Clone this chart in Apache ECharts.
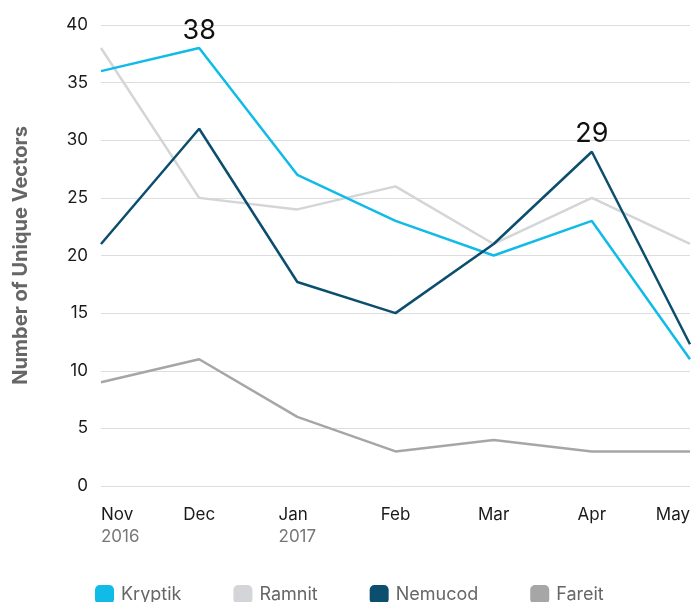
<!DOCTYPE html>
<html>
<head>
<meta charset="utf-8">
<style>
  html, body { margin: 0; padding: 0; background: #fff; }
  #chart { width: 693px; height: 602px; }
</style>
<script src="https://cdn.jsdelivr.net/npm/echarts@6/dist/echarts.min.js"></script>
</head>
<body>
<div id="chart"></div>
<script>
var months = ["Nov", "Dec", "Jan", "Feb", "Mar", "Apr", "May"];
var years = ["2016", "", "2017", "", "", "", ""];
var kryptik = [36, 38, 27, 23, 20, 23, 11];
var ramnit = [38, 25, 24, 26, 21, 25, 21];
var nemucod = [21, 31, 17.7, 15, 21, 29, 12.3];
var fareit = [9, 11, 6, 3, 4, 3, 3];
var yTicks = [0, 5, 10, 15, 20, 25, 30, 35, 40];

(function lineChart() {
  var chart = echarts.init(document.getElementById("chart"));
  var font = "Inter, 'Noto Sans', sans-serif";

  // only one point per series carries a value label
  function peakLabel(values, idx) {
    return values.map(function (v, i) {
      if (i !== idx) return v;
      return {
        value: v,
        label: { show: true, position: "top", distance: 4, fontSize: 27, color: "#111", fontFamily: font }
      };
    });
  }

  function line(name, color, data) {
    return {
      name: name,
      type: "line",
      data: data,
      symbol: "circle",
      symbolSize: 0.01,
      showSymbol: true,
      lineStyle: { width: 2.5, color: color },
      itemStyle: { color: color },
      emphasis: { disabled: true },
      z: 3
    };
  }

  chart.setOption({
    animation: false,
    textStyle: { fontFamily: font },
    grid: { left: 101, right: 0, top: 25, bottom: 116 },
    legend: {
      left: 90,
      top: 580,
      itemWidth: 19,
      itemHeight: 19,
      itemGap: 52,
      icon: "roundRect",
      textStyle: { fontSize: 18, color: "#666", padding: [0, 0, 0, 2] },
      data: ["Kryptik", "Ramnit", "Nemucod", "Fareit"]
    },
    xAxis: {
      type: "category",
      boundaryGap: false,
      data: months,
      axisLine: { show: false },
      axisTick: { show: false },
      axisLabel: {
        margin: 18,
        alignMinLabel: "left",
        alignMaxLabel: "right",
        formatter: function (value, i) {
          return "{m|" + value + "}" + (years[i] ? "\n{y|" + years[i] + "}" : "");
        },
        rich: {
          m: { fontSize: 17, color: "#1a1a1a", lineHeight: 22, fontFamily: font, align: "left" },
          y: { fontSize: 17, color: "#777", lineHeight: 22, fontFamily: font, align: "left" }
        }
      }
    },
    yAxis: {
      type: "value",
      min: 0,
      max: 40,
      interval: 5,
      name: "Number of Unique Vectors",
      nameLocation: "middle",
      nameGap: 70,
      nameTextStyle: { fontSize: 20, fontWeight: "bold", color: "#666" },
      axisLine: { show: false },
      axisTick: { show: false },
      axisLabel: {
        margin: 13,
        fontSize: 17,
        color: "#1a1a1a",
        formatter: function (v) { return yTicks.indexOf(v) >= 0 ? String(v) : ""; }
      },
      splitLine: { lineStyle: { color: "#dddddd", width: 1 } }
    },
    series: [
      line("Ramnit", "#d3d5d8", ramnit),
      line("Fareit", "#a6a6a6", fareit),
      line("Kryptik", "#11bbe8", peakLabel(kryptik, 1)),
      line("Nemucod", "#0c4e6e", peakLabel(nemucod, 5))
    ]
  });
})();
</script>
</body>
</html>
